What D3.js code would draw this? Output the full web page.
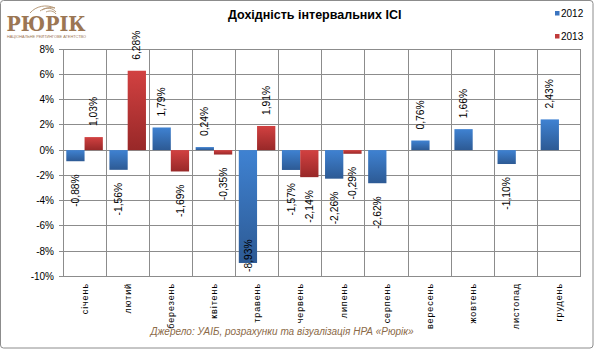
<!DOCTYPE html>
<html><head><meta charset="utf-8">
<script src="https://cdn.jsdelivr.net/npm/d3@7"></script>
<style>
html,body{margin:0;padding:0;background:#fff;}
svg{display:block;font-family:"Liberation Sans",Arial,sans-serif;}
</style></head>
<body>
<svg id="c" width="595" height="359"></svg>
<script>
const months = ["січень","лютий","березень","квітень","травень","червень","липень","серпень","вересень","жовтень","листопад","грудень"];
const seriesNames = ["2012","2013"];
const values2012 = [-0.88,-1.56,1.79,0.24,-8.93,-1.57,-2.26,-2.62,0.76,1.66,-1.10,2.43];
const values2013 = [1.03,6.28,-1.69,-0.35,1.91,-2.14,-0.29,null,null,null,null,null];
const yTicks = [8,6,4,2,0,-2,-4,-6,-8,-10];
const title = "Дохідність інтервальних ІСІ";
const source = "Джерело: УАІБ, розрахунки та  візуалізація НРА «Рюрік»";

const svg = d3.select("#c");
const defs = svg.append("defs");
function grad(id, c1, c2){
  const g = defs.append("linearGradient").attr("id",id).attr("x1",0).attr("y1",0).attr("x2",0).attr("y2",1);
  g.append("stop").attr("offset","0%").attr("stop-color",c1);
  g.append("stop").attr("offset","100%").attr("stop-color",c2);
}
grad("g2012","#3f82d2","#2d5a94");
grad("g2013","#d24141","#982828");
const fills = {"2012":"url(#g2012)","2013":"url(#g2013)"};
const legendColors = {"2012":"#3a74c0","2013":"#c03a3a"};

// outer border
svg.append("rect").attr("x",0.5).attr("y",0.5).attr("width",592.5).attr("height",347.5)
  .attr("rx",3).attr("fill","#fff").attr("stroke","#8c8c8c");

const L=63, R=580.5, T=49, B=276.5;
const x = d3.scaleBand().domain(months).range([L,R]).paddingInner(0).paddingOuter(0);
const x1 = d3.scaleBand().domain(seriesNames).range([0,x.bandwidth()]).paddingInner(0).paddingOuter(0.18);
const y = d3.scaleLinear().domain([-10,8]).range([B,T]);

// grid
const grid = svg.append("g").attr("stroke","#8c8c8c").attr("stroke-width",1).attr("shape-rendering","crispEdges");
grid.selectAll("line.h").data(yTicks).join("line").attr("class","h")
  .attr("x1",L-4).attr("x2",R).attr("y1",d=>y(d)).attr("y2",d=>y(d));
const vx = months.map(m=>x(m)).concat([R]);
grid.selectAll("line.v").data(vx).join("line").attr("class","v")
  .attr("x1",d=>d).attr("x2",d=>d).attr("y1",T).attr("y2",B);

// y axis labels
svg.append("g").selectAll("text").data(yTicks).join("text")
  .attr("x",54).attr("y",d=>y(d)+3.5).attr("text-anchor","end")
  .attr("font-size",10).attr("fill","#000").text(d=>d+"%");

// bars
const data = [];
months.forEach((m,i)=>{
  [["2012",values2012[i]],["2013",values2013[i]]].forEach(([s,v])=>{
    if(v!==null) data.push({m,s,v});
  });
});
svg.append("g").selectAll("rect").data(data).join("rect")
  .attr("x",d=>x(d.m)+x1(d.s))
  .attr("width",x1.bandwidth())
  .attr("y",d=>y(Math.max(0,d.v)))
  .attr("height",d=>Math.abs(y(d.v)-y(0)))
  .attr("fill",d=>fills[d.s]);

// data labels
const fmt = v => v.toFixed(2).replace(".",",")+"%";
const lg = svg.append("g");
data.forEach(d=>{
  const cx = x(d.m)+x1(d.s)+x1.bandwidth()/2 + 3.6;
  const t = lg.append("text").attr("font-size",10.3).attr("fill","#000").text(fmt(d.v));
  const len = t.node().getComputedTextLength();
  let yy, anchor;
  if(d.v>=0){ yy = y(d.v)-11; anchor="start"; }
  else { yy = Math.min(y(d.v)+13, B-4.5-len); anchor="end"; }
  t.attr("text-anchor",anchor).attr("transform",`translate(${cx},${yy}) rotate(-90)`);
});

// category labels
svg.append("g").selectAll("text").data(months).join("text")
  .attr("text-anchor","end").attr("font-size",9).attr("letter-spacing",0.9).attr("fill","#000")
  .attr("transform",d=>`translate(${x(d)+x.bandwidth()/2+3.2},${283}) rotate(-90)`)
  .text(d=>d);

// title
svg.append("text").attr("x",228).attr("y",18.5).attr("font-size",12.5).attr("font-weight","bold")
  .attr("fill","#000").text(title);

// legend
const leg = svg.append("g");
seriesNames.forEach((s,i)=>{
  const yy = [13.5,36.5][i];
  leg.append("rect").attr("x",555).attr("y",yy-2.5).attr("width",4.5).attr("height",4.5).attr("fill",legendColors[s]);
  leg.append("text").attr("x",561).attr("y",yy+3.5).attr("font-size",10).attr("fill","#000").text(s);
});

// source
svg.append("text").attr("x",282).attr("y",335).attr("text-anchor","middle")
  .attr("font-size",10).attr("font-style","italic").attr("fill","#8b6a48").text(source);

// logo
const logo = svg.append("g");
logo.append("path").attr("d","M30,13 C36,6 46,4 55,8 C50,7 44,8 40,11 M42,10 C47,7 53,8 56,12 M46,12 C50,10 54,11 56,14")
  .attr("fill","none").attr("stroke","#b79a7a").attr("stroke-width",1);
logo.append("text").attr("x",6.5).attr("y",31).attr("font-family","'DejaVu Serif',serif").attr("font-weight","bold")
  .attr("font-size",20).attr("fill","#9b7653").attr("textLength",79).attr("lengthAdjust","spacingAndGlyphs").text("РЮРІК");
logo.append("text").attr("x",7).attr("y",38).attr("font-size",3.6).attr("fill","#9b7653")
  .attr("textLength",79).attr("lengthAdjust","spacingAndGlyphs").text("НАЦІОНАЛЬНЕ РЕЙТИНГОВЕ АГЕНТСТВО");
</script>
</body></html>
